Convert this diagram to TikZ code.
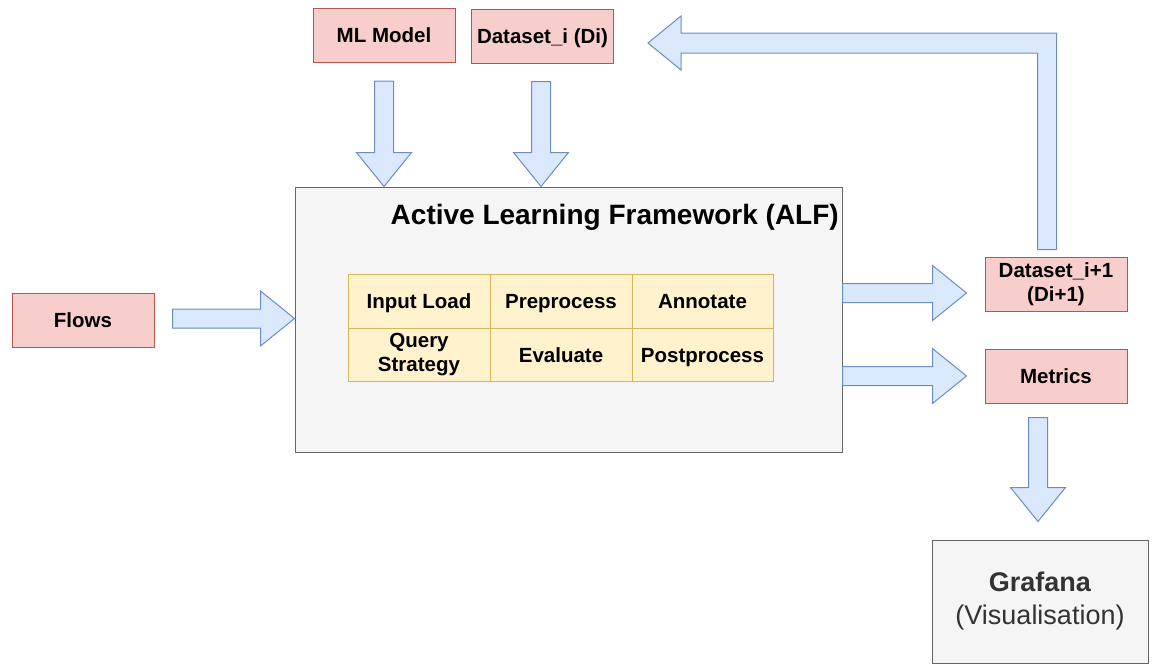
\documentclass[tikz,border=0pt]{standalone}
\usepackage{fontspec}
\setmainfont{Liberation Sans}
\usetikzlibrary{calc}
\definecolor{pinkf}{HTML}{F8CECC}
\definecolor{pinkd}{HTML}{B85450}
\definecolor{bluef}{HTML}{DAE8FC}
\definecolor{blued}{HTML}{6C8EBF}
\definecolor{grayf}{HTML}{F5F5F5}
\definecolor{grayd}{HTML}{666666}
\definecolor{yelf}{HTML}{FFF2CC}
\definecolor{yeld}{HTML}{D6B656}
\definecolor{txtg}{HTML}{333333}
\newcommand{\rarrow}[2]{\draw[barrow] let \p1=#1,\p2=#2 in (\x1,\y2+9.5pt) -- (\x2-34pt,\y2+9.5pt) -- (\x2-34pt,\y2+27.5pt) -- (\x2,\y2) -- (\x2-34pt,\y2-27.5pt) -- (\x2-34pt,\y2-9.5pt) -- (\x1,\y2-9.5pt) -- cycle;}
\newcommand{\darrow}[2]{\draw[barrow] let \p1=#1,\p2=#2 in (\x2-9.5pt,\y1) -- (\x2-9.5pt,\y2+34pt) -- (\x2-27.5pt,\y2+34pt) -- (\x2,\y2) -- (\x2+27.5pt,\y2+34pt) -- (\x2+9.5pt,\y2+34pt) -- (\x2+9.5pt,\y1) -- cycle;}
\begin{document}
\begin{tikzpicture}[x=1pt,y=-1pt,
 redbox/.style={draw=pinkd,fill=pinkf,line width=1pt,minimum width=142pt,minimum height=54pt,inner sep=0pt,align=center,font=\fontsize{20.5}{24}\selectfont\bfseries},
 cell/.style={draw=yeld,fill=yelf,line width=1pt,minimum height=53.5pt,inner sep=0pt,align=center,font=\fontsize{20.5}{24}\selectfont\bfseries},
 oneline/.style={text height=14.7pt,text depth=0pt},
 graybox/.style={draw=grayd,fill=grayf,line width=1pt,inner sep=0pt},
 barrow/.style={draw=blued,fill=bluef,line width=1pt,line join=miter}]
\useasboundingbox[fill=white] (0,0) rectangle (1152,665);

\node[redbox,oneline] (ml) at (384,35.5) {ML Model};
\node[redbox,oneline] (di) at (542.5,36) {Dataset\_i (Di)};
\node[graybox,minimum width=547pt,minimum height=265pt] (alf) at (568.5,319.5) {};
\node[font=\fontsize{28}{32}\selectfont\bfseries,anchor=base east,inner sep=0pt] (title) at (839,224) {Active Learning Framework (ALF)};

\node[cell,oneline,minimum width=142pt] (c11) at (419,301.5) {Input Load};
\node[cell,oneline,minimum width=142pt] (c12) at (561,301.5) {Preprocess};
\node[cell,oneline,minimum width=141pt] (c13) at (702.5,301.5) {Annotate};
\node[cell,minimum width=142pt] (c21) at (419,355) {Query\\Strategy};
\node[cell,oneline,minimum width=142pt] (c22) at (561,355) {Evaluate};
\node[cell,oneline,minimum width=141pt] (c23) at (702.5,355) {Postprocess};

\node[redbox,oneline] (flows) at (83,320) {Flows};
\node[redbox] (dn1) at (1056,284) {Dataset\_i+1\\(Di+1)};
\node[redbox,oneline] (metrics) at (1056,376) {Metrics};
\node[graybox,minimum width=216pt,minimum height=123pt,align=center,text=txtg,font=\fontsize{27}{33}\selectfont] (gf) at (1040,601.5) {\textbf{Grafana}\\(Visualisation)};

% connectors
\coordinate (mls) at ($(ml.south)+(0,18)$);
\darrow{(mls)}{(mls |- alf.north)}
\coordinate (dis) at ($(di.south)+(-1.5,18)$);
\darrow{(dis)}{(dis |- alf.north)}
\coordinate (fls) at ($(flows.east)+(18,-1.5)$);
\rarrow{(fls)}{(alf.west |- fls)}
\coordinate (t1) at ($(dn1.west)+(-18,9)$);
\rarrow{(alf.east |- t1)}{(t1)}
\coordinate (t2) at ($(metrics.west)+(-18,0)$);
\rarrow{(alf.east |- t2)}{(t2)}
\coordinate (ms) at ($(metrics.south)+(-18,14)$);
\coordinate (mt) at ($(ms |- gf.north)+(0,-18)$);
\darrow{(ms)}{(mt)}

\coordinate (fbs) at ($(dn1.north)+(-9,-7)$);
\coordinate (fbc) at ($(fbs |- di.east)+(0,7)$);
\coordinate (fbt) at ($(di.east |- fbc)+(34,0)$);
\draw[barrow] let \p1=(fbs),\p2=(fbc),\p3=(fbt) in
 (\x1-9.5pt,\y1) -- (\x1-9.5pt,\y2-10pt) -- (\x3+33pt,\y2-10pt) -- (\x3+33pt,\y2-27pt) -- (\x3,\y2) -- (\x3+33pt,\y2+27pt) -- (\x3+33pt,\y2+10pt) -- (\x1+9.5pt,\y2+10pt) -- (\x1+9.5pt,\y1) -- cycle;
\end{tikzpicture}
\end{document}
